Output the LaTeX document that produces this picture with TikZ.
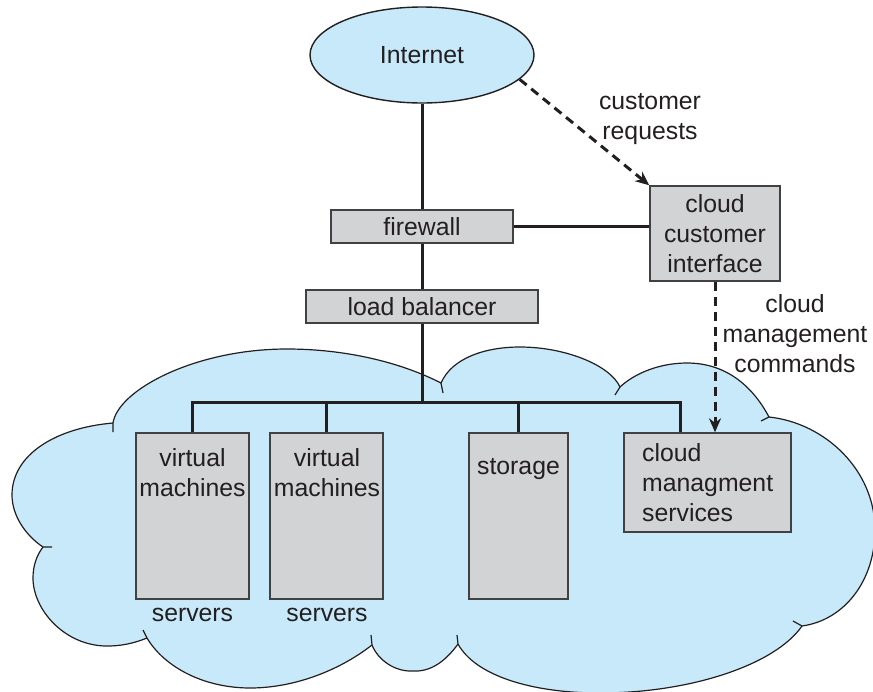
\documentclass[tikz,border=0pt]{standalone}
\usepackage{fontspec}
\setmainfont{Liberation Sans}
\usetikzlibrary{shapes.geometric,arrows.meta}
\definecolor{skyfill}{HTML}{C7E9FA}
\definecolor{boxfill}{HTML}{D1D3D4}
\definecolor{boxedge}{HTML}{414042}
\definecolor{inkdark}{HTML}{231F20}
\tikzset{
  figtext/.style={font=\fontsize{24.8}{30}\selectfont,text=inkdark},
  panel/.style={draw=boxedge,fill=boxfill,line width=1.4pt,inner sep=0pt,figtext,align=center},
  lbl/.style={figtext,inner sep=0pt,align=center,anchor=north},
  lbll/.style={figtext,inner sep=0pt,align=left,anchor=north west},
  wire/.style={draw=inkdark,line width=3pt},
  dashwire/.style={draw=inkdark,line width=3pt,dash pattern=on 9pt off 6pt,-{Stealth[length=14pt,width=12pt]}},
  cloudline/.style={draw=inkdark,line width=1.2pt}
}
\begin{document}
\begin{tikzpicture}[x=1pt,y=-1pt]
\useasboundingbox (0,0) rectangle (873,691);
% cloud
\fill[skyfill] (113,423)
 .. controls (118,390) and (195,349) .. (287,349)
 .. controls (345,349) and (400,362) .. (441,383)
 .. controls (452,358) and (485,347) .. (520,347)
 .. controls (565,347) and (610,365) .. (620,387)
 .. controls (635,373) and (660,363) .. (687,363)
 .. controls (725,363) and (752,385) .. (769,417)
 .. controls (825,423) and (875,470) .. (875,530)
 .. controls (875,580) and (845,620) .. (802,626)
 .. controls (775,665) and (690,693) .. (600,693)
 .. controls (530,693) and (475,675) .. (458,644)
 .. controls (445,662) and (430,672) .. (413,671)
 .. controls (395,672) and (378,660) .. (372,645)
 .. controls (340,670) and (295,688) .. (250,688)
 .. controls (205,688) and (165,668) .. (147,638)
 .. controls (132,644) and (120,646) .. (107,646)
 .. controls (65,646) and (33,610) .. (33,578)
 .. controls (33,565) and (37,555) .. (43,547)
 .. controls (25,535) and (12,515) .. (12,495)
 .. controls (12,455) and (55,428) .. (113,423) -- cycle;
\draw[cloudline] (113,432) -- (113,423)
 .. controls (118,390) and (195,349) .. (287,349)
 .. controls (345,349) and (400,362) .. (441,383);
\draw[cloudline] (443,393) -- (441,383)
 .. controls (452,358) and (485,347) .. (520,347)
 .. controls (565,347) and (610,365) .. (620,387) -- (615,395);
\draw[cloudline] (620,387)
 .. controls (635,373) and (660,363) .. (687,363)
 .. controls (725,363) and (752,385) .. (769,417) -- (761,421);
\draw[cloudline] (769,417)
 .. controls (825,423) and (875,470) .. (875,530)
 .. controls (875,580) and (845,620) .. (802,626) -- (793,621);
\draw[cloudline] (802,626)
 .. controls (775,665) and (690,693) .. (600,693)
 .. controls (530,693) and (475,675) .. (458,644) -- (457,635);
\draw[cloudline] (458,644)
 .. controls (445,662) and (430,672) .. (413,671)
 .. controls (395,672) and (378,660) .. (372,645) -- (371,635);
\draw[cloudline] (372,645)
 .. controls (340,670) and (295,688) .. (250,688)
 .. controls (205,688) and (165,668) .. (147,638) -- (143,630);
\draw[cloudline] (147,638)
 .. controls (132,644) and (120,646) .. (107,646)
 .. controls (65,646) and (33,610) .. (33,578)
 .. controls (33,565) and (37,555) .. (43,547) -- (52,547);
\draw[cloudline] (43,547)
 .. controls (25,535) and (12,515) .. (12,495)
 .. controls (12,455) and (55,428) .. (113,423);
% nodes
\node[ellipse,draw=inkdark,fill=skyfill,line width=1.4pt,inner sep=0pt,minimum width=224pt,minimum height=96pt,figtext] (inet) at (422,55) {\raisebox{-1pt}{Internet}};
\node[panel,minimum width=182pt,minimum height=33pt] (fw) at (422,226.5) {firewall};
\node[panel,minimum width=232pt,minimum height=33pt] (lb) at (422,306.5) {load balancer};
\node[panel,minimum width=130pt,minimum height=95pt] (cci) at (715,233.5) {cloud\\customer\\interface};
\node[panel,minimum width=113pt,minimum height=166pt] (vma) at (192.5,516) {};
\node[panel,minimum width=113pt,minimum height=166pt] (vmb) at (326.5,516) {};
\node[panel,minimum width=99pt,minimum height=166pt] (sto) at (518.5,516) {};
\node[panel,minimum width=167pt,minimum height=99pt] (cms) at (707.5,482.5) {};
% texts
\node[lbl] (vmat) at (192.5,445) {\strut virtual\\machines};
\node[lbl] (vmbt) at (327,445) {\strut virtual\\machines};
\node[lbl] (seat) at (192.5,600) {\strut servers};
\node[lbl] (sebt) at (327,600) {\strut servers};
\node[lbl] (stot) at (518.5,453) {\strut storage};
\node[lbll] (cmst) at (642,440) {\strut cloud\\managment\\services};
\node[lbl] (reqt) at (650,88) {\strut customer\\requests};
\node[lbl] (cmdt) at (795,291) {\strut cloud\\management\\commands};
% connectors
\coordinate (bus) at (422,402);
\coordinate (busr) at (680,402);
\draw[wire] (inet.south) -- (fw.north);
\draw[wire] (fw.south) -- (lb.north);
\draw[wire] (lb.south) -- (bus);
\draw[wire] (fw.east) -- (fw.east -| cci.west);
\draw[wire] (vma.north) |- (bus) -- (busr) -- (busr |- cms.north);
\draw[wire] (vmb.north) -- (vmb.north |- bus);
\draw[wire] (sto.north) -- (sto.north |- bus);
\draw[dashwire] (inet.-14.6) -- (cci.north west);
\draw[dashwire] (cci.south) -- (cci.south |- cms.north);
\end{tikzpicture}
\end{document}
